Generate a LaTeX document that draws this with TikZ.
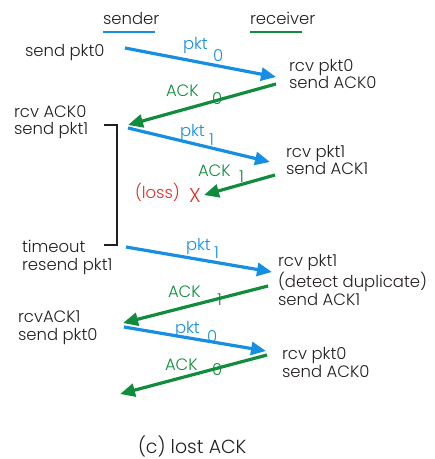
\documentclass[tikz,border=0pt]{standalone}
\usepackage{fontspec}
\setmainfont{Poppins}[UprightFont=* Light]
\usetikzlibrary{arrows.meta}
\definecolor{pktblue}{RGB}{22,142,226}
\definecolor{ackgreen}{RGB}{16,140,60}
\definecolor{lossred}{RGB}{226,48,40}
\definecolor{txt}{RGB}{35,31,32}
\begin{document}
\begin{tikzpicture}[x=1bp,y=-1bp,
  every node/.style={inner sep=0pt,outer sep=0pt,text=txt,font=\fontsize{16.5}{17.5}\selectfont},
  % multi-line nodes: the base anchor sits on the last line
  side/.style={align=left,anchor=base west},
  pktmsg/.style={pktblue,line width=3.2bp,-{Triangle[length=15bp,width=13bp]}},
  ackmsg/.style={ackgreen,line width=3.2bp,-{Triangle[length=15bp,width=13bp]}},
  pktlbl/.style={text=pktblue,anchor=base west},
  acklbl/.style={text=ackgreen,anchor=base west},
  timer/.style={txt,line width=2bp}
]
\useasboundingbox (0,0) rectangle (435,459);

% column headings
\node[anchor=base west] (snd) at (103,25) {sender};
\node[anchor=base west] (rcv) at (250,25) {receiver};
\draw[pktblue,line width=2.5bp] (103,32) -- (155,32);
\draw[ackgreen,line width=2.5bp] (250,32) -- (302,32);

% sender side texts
\node[side] (s1) at (25,57) {send pkt0};
\node[side] (s2) at (14,135) {rcv ACK0\\send pkt1};
\node[side] (s3) at (22,270) {timeout\\resend pkt1};
\node[side] (s4) at (18,340) {rcvACK1\\send pkt0};

% receiver side texts
\node[side] (r1) at (289,89) {rcv pkt0\\send ACK0};
\node[side] (r2) at (286,175) {rcv pkt1\\send ACK1};
\node[side] (r3) at (278,305) {rcv pkt1\\(detect duplicate)\\send ACK1};
\node[side] (r4) at (282,377) {rcv pkt0\\send ACK0};

% message labels and sequence numbers (drawn first, the lines pass over them)
\node[pktlbl] (l0) at (183,50) {pkt};  \node[pktlbl] (n0) at (213,62) {0};
\node[acklbl] (l1) at (166,97) {ACK};  \node[acklbl] (n1) at (212,105) {0};
\node[pktlbl] (l2) at (180,137) {pkt}; \node[pktlbl] (n2) at (209,146) {1};
\node[acklbl] (l3) at (198,177) {ACK}; \node[acklbl] (n3) at (239,183) {1};
\node[pktlbl] (l4) at (186,250) {pkt}; \node[pktlbl] (n4) at (214,258) {1};
\node[acklbl] (l5) at (168,297) {ACK}; \node[acklbl] (n5) at (217,305) {1};
\node[pktlbl] (l6) at (175,333) {pkt}; \node[pktlbl] (n6) at (207,342) {0};
\node[acklbl] (l7) at (165,370) {ACK}; \node[acklbl] (n7) at (212,375) {0};

% message end points
\coordinate (a0) at (125,48);  \coordinate (b0) at (276,77);
\coordinate (c0) at (276,84);  \coordinate (d0) at (128,125);
\coordinate (a1) at (128,128); \coordinate (b1) at (270,162);
\coordinate (c1) at (275,175); \coordinate (d1) at (204,195);
\coordinate (a2) at (126,247); \coordinate (b2) at (272,272);
\coordinate (c2) at (268,286); \coordinate (d2) at (123,323);
\coordinate (a3) at (124,327); \coordinate (b3) at (266,351);
\coordinate (c3) at (267,355); \coordinate (d3) at (120,394);

% messages
\draw[pktmsg] (a0) -- (b0);
\draw[ackmsg] (c0) -- (d0);
\draw[pktmsg] (a1) -- (b1);
\draw[ackmsg] (c1) -- (d1);
\draw[pktmsg] (a2) -- (b2);
\draw[ackmsg] (c2) -- (d2);
\draw[pktmsg] (a3) -- (b3);
\draw[ackmsg] (c3) -- (d3);

% lost acknowledgement
\node[anchor=base west,text=lossred] (loss) at (135,199) {(loss)};
\node[anchor=base west,text=lossred,font=\fontsize{20}{22}\selectfont] (x) at (189,203) {X};

% timeout bracket
\coordinate (t0) at (104,125); \coordinate (t1) at (104,245);
\draw[timer] (t0) -- ++(13,0) |- (t1);

% caption
\node[anchor=base west,font=\fontsize{19}{22}\selectfont] (cap) at (138,453) {(c) lost ACK};
\end{tikzpicture}
\end{document}
